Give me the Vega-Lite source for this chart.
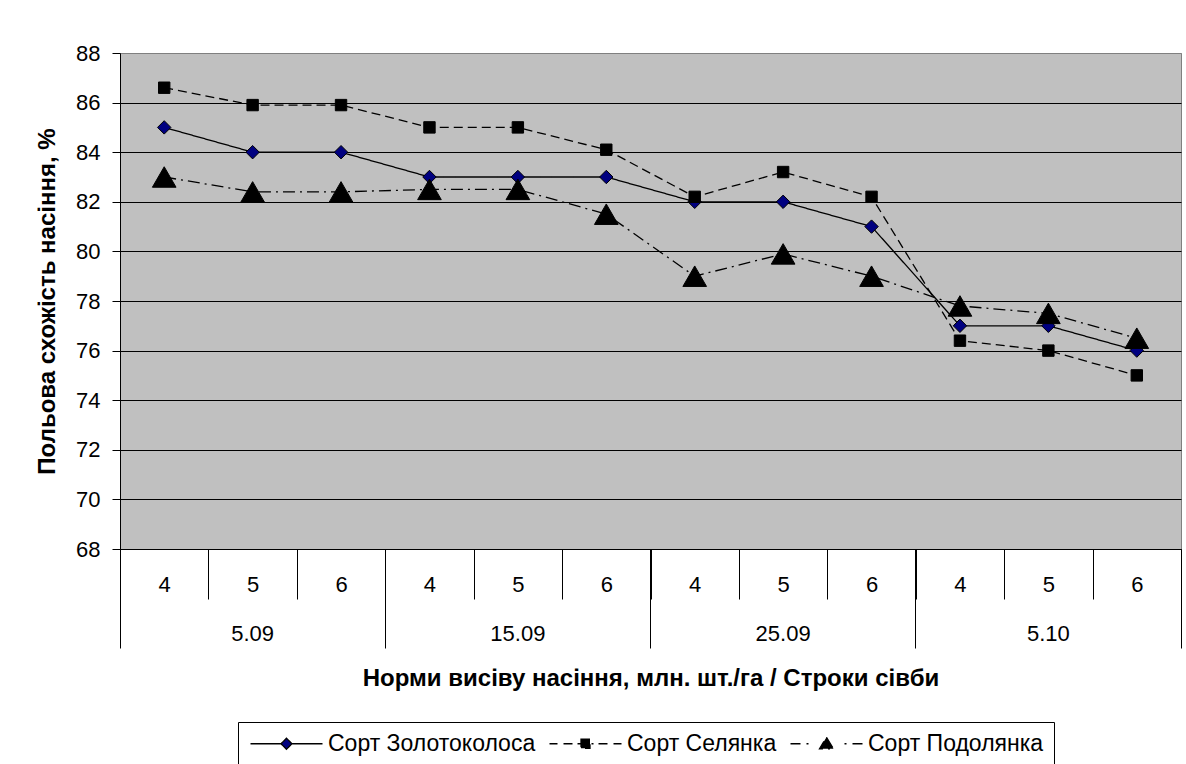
{
  "$schema": "https://vega.github.io/schema/vega-lite/v6.json",
  "width": 1061,
  "height": 496,
  "autosize": {"type": "none"},
  "padding": {"left": 120, "top": 53, "right": 5, "bottom": 215},
  "background": "white",
  "config": {
    "font": "Liberation Sans",
    "view": {"fill": "#C0C0C0", "stroke": "#808080", "strokeWidth": 1},
    "axis": {
      "labelFont": "Liberation Sans",
      "titleFont": "Liberation Sans",
      "labelColor": "black",
      "titleColor": "black",
      "domainColor": "black",
      "tickColor": "black",
      "labelFontSize": 22,
      "titleFontSize": 24,
      "labelAngle": 0,
      "labelOverlap": false,
      "labelFlush": false,
      "labelBound": false
    },
    "legend": {
      "labelFont": "Liberation Sans",
      "labelFontSize": 23,
      "labelColor": "black",
      "labelLimit": 0,
      "symbolSize": 400,
      "symbolOpacity": 1,
      "symbolStrokeColor": "black",
      "symbolStrokeWidth": 1.3,
      "symbolOffset": 27,
      "labelOffset": 30,
      "columnPadding": 10,
      "padding": 10,
      "strokeColor": "black",
      "fillColor": "white",
      "direction": "horizontal",
      "orient": "none",
      "legendX": 118,
      "legendY": 669,
      "title": null
    }
  },
  "data": {
    "values": [
      {"sort": "Сорт Золотоколоса", "date": "5.09", "rate": "4", "cat": "5.09|4", "value": 85},
      {"sort": "Сорт Золотоколоса", "date": "5.09", "rate": "5", "cat": "5.09|5", "value": 84},
      {"sort": "Сорт Золотоколоса", "date": "5.09", "rate": "6", "cat": "5.09|6", "value": 84},
      {"sort": "Сорт Золотоколоса", "date": "15.09", "rate": "4", "cat": "15.09|4", "value": 83},
      {"sort": "Сорт Золотоколоса", "date": "15.09", "rate": "5", "cat": "15.09|5", "value": 83},
      {"sort": "Сорт Золотоколоса", "date": "15.09", "rate": "6", "cat": "15.09|6", "value": 83},
      {"sort": "Сорт Золотоколоса", "date": "25.09", "rate": "4", "cat": "25.09|4", "value": 82},
      {"sort": "Сорт Золотоколоса", "date": "25.09", "rate": "5", "cat": "25.09|5", "value": 82},
      {"sort": "Сорт Золотоколоса", "date": "25.09", "rate": "6", "cat": "25.09|6", "value": 81},
      {"sort": "Сорт Золотоколоса", "date": "5.10", "rate": "4", "cat": "5.10|4", "value": 77},
      {"sort": "Сорт Золотоколоса", "date": "5.10", "rate": "5", "cat": "5.10|5", "value": 77},
      {"sort": "Сорт Золотоколоса", "date": "5.10", "rate": "6", "cat": "5.10|6", "value": 76},
      {"sort": "Сорт Селянка", "date": "5.09", "rate": "4", "cat": "5.09|4", "value": 86.6},
      {"sort": "Сорт Селянка", "date": "5.09", "rate": "5", "cat": "5.09|5", "value": 85.9},
      {"sort": "Сорт Селянка", "date": "5.09", "rate": "6", "cat": "5.09|6", "value": 85.9},
      {"sort": "Сорт Селянка", "date": "15.09", "rate": "4", "cat": "15.09|4", "value": 85.0},
      {"sort": "Сорт Селянка", "date": "15.09", "rate": "5", "cat": "15.09|5", "value": 85.0},
      {"sort": "Сорт Селянка", "date": "15.09", "rate": "6", "cat": "15.09|6", "value": 84.1},
      {"sort": "Сорт Селянка", "date": "25.09", "rate": "4", "cat": "25.09|4", "value": 82.2},
      {"sort": "Сорт Селянка", "date": "25.09", "rate": "5", "cat": "25.09|5", "value": 83.2},
      {"sort": "Сорт Селянка", "date": "25.09", "rate": "6", "cat": "25.09|6", "value": 82.2},
      {"sort": "Сорт Селянка", "date": "5.10", "rate": "4", "cat": "5.10|4", "value": 76.4},
      {"sort": "Сорт Селянка", "date": "5.10", "rate": "5", "cat": "5.10|5", "value": 76.0},
      {"sort": "Сорт Селянка", "date": "5.10", "rate": "6", "cat": "5.10|6", "value": 75.0},
      {"sort": "Сорт Подолянка", "date": "5.09", "rate": "4", "cat": "5.09|4", "value": 83.0},
      {"sort": "Сорт Подолянка", "date": "5.09", "rate": "5", "cat": "5.09|5", "value": 82.4},
      {"sort": "Сорт Подолянка", "date": "5.09", "rate": "6", "cat": "5.09|6", "value": 82.4},
      {"sort": "Сорт Подолянка", "date": "15.09", "rate": "4", "cat": "15.09|4", "value": 82.5},
      {"sort": "Сорт Подолянка", "date": "15.09", "rate": "5", "cat": "15.09|5", "value": 82.5},
      {"sort": "Сорт Подолянка", "date": "15.09", "rate": "6", "cat": "15.09|6", "value": 81.5},
      {"sort": "Сорт Подолянка", "date": "25.09", "rate": "4", "cat": "25.09|4", "value": 79.0},
      {"sort": "Сорт Подолянка", "date": "25.09", "rate": "5", "cat": "25.09|5", "value": 79.9},
      {"sort": "Сорт Подолянка", "date": "25.09", "rate": "6", "cat": "25.09|6", "value": 79.0},
      {"sort": "Сорт Подолянка", "date": "5.10", "rate": "4", "cat": "5.10|4", "value": 77.8},
      {"sort": "Сорт Подолянка", "date": "5.10", "rate": "5", "cat": "5.10|5", "value": 77.5},
      {"sort": "Сорт Подолянка", "date": "5.10", "rate": "6", "cat": "5.10|6", "value": 76.5}
    ]
  },
  "layer": [
    {
      "mark": {"type": "point", "filled": true, "strokeWidth": 1.3, "opacity": 0},
      "encoding": {
        "x": {
          "field": "cat", "type": "ordinal",
          "scale": {"type": "band", "domain": ["5.09|4","5.09|5","5.09|6","15.09|4","15.09|5","15.09|6","25.09|4","25.09|5","25.09|6","5.10|4","5.10|5","5.10|6"], "paddingInner": 0, "paddingOuter": 0},
          "axis": {"orient": "bottom", "title": null, "values": ["5.10|6"], "bandPosition": 1, "tickSize": 99, "labels": false, "domain": false, "grid": false}
        },
        "y": {"field": "value", "type": "quantitative", "scale": {"domain": [68, 88], "nice": false, "zero": false}, "axis": null},
        "shape": {
          "field": "sort", "type": "nominal",
          "scale": {"domain": ["Сорт Золотоколоса","Сорт Селянка","Сорт Подолянка"], "range": [
            "M-3.6,0L-0.55,0M0.55,0L3.6,0M0,-0.55L0.55,0L0,0.55L-0.55,0Z",
            "M-3.6,0L-2.8,0M-2.2,0L-1.3,0M-0.8,0L0.8,0M1.3,0L2.2,0M2.8,0L3.6,0M-0.45,-0.45L0.45,-0.45L0.45,0.45L-0.45,0.45Z",
            "M-3.6,0L-2.6,0M-2.0,0L-1.8,0M1.8,0L2.0,0M2.6,0L3.6,0M0,-0.65L0.7,0.5L-0.7,0.5Z"
          ]},
          "legend": {"orient": "none", "legendX": 118, "legendY": 669, "direction": "horizontal", "title": null, "symbolOpacity": 1}
        },
        "fill": {
          "field": "sort", "type": "nominal",
          "scale": {"domain": ["Сорт Золотоколоса","Сорт Селянка","Сорт Подолянка"], "range": ["#000080","black","black"]},
          "legend": {"orient": "none", "legendX": 118, "legendY": 669, "direction": "horizontal", "title": null, "symbolOpacity": 1}
        },
        "stroke": {
          "field": "sort", "type": "nominal",
          "scale": {"domain": ["Сорт Золотоколоса","Сорт Селянка","Сорт Подолянка"], "range": ["black","black","black"]},
          "legend": {"orient": "none", "legendX": 118, "legendY": 669, "direction": "horizontal", "title": null, "symbolOpacity": 1}
        }
      }
    },
    {
      "mark": {"type": "line", "color": "black", "strokeWidth": 1.3},
      "encoding": {
        "x": {
          "field": "cat", "type": "ordinal",
          "axis": {"orient": "bottom", "title": null, "tickBand": "extent", "tickSize": 50, "domain": true, "grid": false, "labelExpr": "split(datum.label, '|')[1]", "labelBaseline": "middle", "labelPadding": -15}
        },
        "y": {
          "field": "value", "type": "quantitative",
          "axis": {
            "orient": "left",
            "values": [68,70,72,74,76,78,80,82,84,86,88],
            "title": "Польова схожість насіння, %",
            "titleFontWeight": "bold",
            "titlePadding": 16,
            "tickSize": 8,
            "labelPadding": 12,
            "grid": true,
            "gridColor": {"condition": {"test": "datum.value == 88", "value": "#808080"}, "value": "black"},
            "gridWidth": 1,
            "gridOpacity": 1
          }
        },
        "strokeDash": {
          "field": "sort", "type": "nominal",
          "scale": {"domain": ["Сорт Золотоколоса","Сорт Селянка","Сорт Подолянка"], "range": [[1,0],[9,5],[12,5,2,5]]},
          "legend": null
        }
      }
    },
    {
      "transform": [{"filter": "datum.sort === 'Сорт Золотоколоса'"}],
      "mark": {"type": "point", "shape": "diamond", "filled": true, "fill": "#000080", "stroke": "black", "strokeWidth": 1, "size": 180, "opacity": 1},
      "encoding": {
        "x": {
          "field": "cat", "type": "ordinal",
          "axis": {"orient": "bottom", "title": null, "values": ["5.09|4","15.09|4","25.09|4","5.10|4"], "bandPosition": 0, "tickSize": 99, "labels": false, "domain": false, "grid": false}
        },
        "y": {"field": "value", "type": "quantitative", "axis": null}
      }
    },
    {
      "transform": [{"filter": "datum.sort === 'Сорт Селянка'"}],
      "mark": {"type": "point", "shape": "square", "filled": true, "fill": "black", "stroke": "black", "strokeWidth": 1, "size": 130, "opacity": 1},
      "encoding": {
        "x": {"field": "cat", "type": "ordinal", "axis": null},
        "y": {"field": "value", "type": "quantitative", "axis": null}
      }
    },
    {
      "transform": [{"filter": "datum.sort === 'Сорт Подолянка'"}],
      "mark": {"type": "point", "shape": "triangle-up", "filled": true, "fill": "black", "stroke": "black", "strokeWidth": 1, "size": 560, "opacity": 1},
      "encoding": {
        "x": {
          "field": "cat", "type": "ordinal",
          "axis": {"orient": "bottom", "values": ["5.09|5","15.09|5","25.09|5","5.10|5"], "ticks": false, "tickSize": 0, "domain": false, "grid": false, "labelExpr": "split(datum.label, '|')[0]", "labelBaseline": "middle", "labelPadding": 84, "title": "Норми висіву насіння, млн. шт./га / Строки сівби", "titleFontWeight": "bold", "titlePadding": 22}
        },
        "y": {"field": "value", "type": "quantitative", "axis": null}
      }
    }
  ],
  "resolve": {
    "axis": {"x": "independent", "y": "independent"}
  }
}
